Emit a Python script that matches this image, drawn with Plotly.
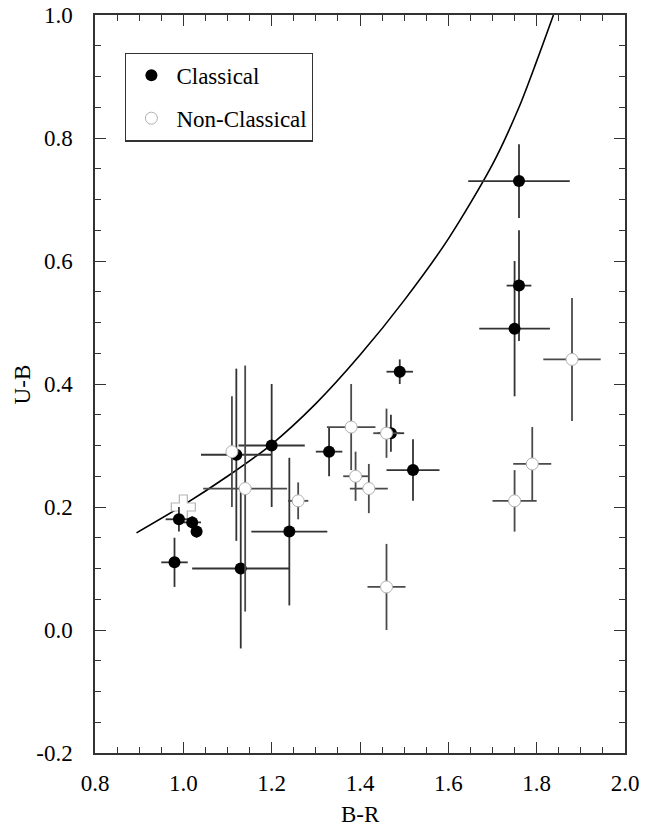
import plotly.graph_objects as go

# Classical objects: B-R colour, U-B colour and their 1-sigma errors
classical_br = [0.98, 0.99, 1.02, 1.03, 1.12, 1.13, 1.20, 1.24, 1.33, 1.47, 1.49, 1.52, 1.75, 1.76, 1.76]
classical_ub = [0.11, 0.18, 0.175, 0.16, 0.285, 0.10, 0.30, 0.16, 0.29, 0.32, 0.42, 0.26, 0.49, 0.56, 0.73]
classical_br_err = [0.03, 0.03, 0.02, 0.01, 0.08, 0.11, 0.075, 0.086, 0.03, 0.03, 0.03, 0.06, 0.08, 0.028, 0.115]
classical_ub_err = [0.04, 0.02, 0.01, 0.01, 0.14, 0.13, 0.10, 0.12, 0.04, 0.03, 0.02, 0.05, 0.11, 0.09, 0.06]

# Non-classical objects
nonclassical_br = [1.11, 1.14, 1.26, 1.38, 1.39, 1.42, 1.46, 1.46, 1.75, 1.79, 1.88]
nonclassical_ub = [0.29, 0.23, 0.21, 0.33, 0.25, 0.23, 0.32, 0.07, 0.21, 0.27, 0.44]
nonclassical_br_err = [0.012, 0.095, 0.023, 0.055, 0.028, 0.043, 0.03, 0.043, 0.05, 0.043, 0.065]
nonclassical_ub_err = [0.09, 0.20, 0.03, 0.07, 0.04, 0.04, 0.04, 0.07, 0.05, 0.06, 0.10]

# Reference object marked with a cross
cross_br = [1.00]
cross_ub = [0.20]

# Model colour track
track_br = [0.894, 1.00, 1.10, 1.20, 1.30, 1.40, 1.50, 1.60, 1.70, 1.76, 1.80, 1.838]
track_ub = [0.158, 0.203, 0.250, 0.302, 0.368, 0.447, 0.536, 0.636, 0.757, 0.850, 0.925, 1.0]

# Axis ticks and titles
x_ticks = [0.8, 1.0, 1.2, 1.4, 1.6, 1.8, 2.0]
x_ticklabels = ["0.8", "1.0", "1.2", "1.4", "1.6", "1.8", "2.0"]
y_ticks = [-0.2, 0.0, 0.2, 0.4, 0.6, 0.8, 1.0]
y_ticklabels = ["-0.2", "0.0", "0.2", "0.4", "0.6", "0.8", "1.0"]
x_title = "B-R"
y_title = "U-B"

FONT = "Liberation Serif"
FSIZE = 23

fig = go.Figure()

fig.add_trace(go.Scatter(
    x=track_br, y=track_ub, mode="lines",
    line=dict(color="black", width=1.6, shape="spline", smoothing=0.8),
    showlegend=False, hoverinfo="skip", cliponaxis=True,
))

fig.add_trace(go.Scatter(
    x=cross_br, y=cross_ub, mode="markers",
    marker=dict(symbol="cross", size=20, color="white",
                line=dict(color="#b5b5b5", width=1.2)),
    showlegend=False,
))

fig.add_trace(go.Scatter(
    x=classical_br, y=classical_ub, mode="markers", name="Classical",
    legendgroup="a",
    marker=dict(symbol="circle", size=12, color="black",
                line=dict(color="black", width=0)),
    error_x=dict(type="data", array=classical_br_err, color="#333333",
                 thickness=1.8, width=0),
    error_y=dict(type="data", array=classical_ub_err, color="#333333",
                 thickness=1.8, width=0),
))

fig.add_trace(go.Scatter(
    x=nonclassical_br, y=nonclassical_ub, mode="markers", name="Non-Classical",
    legendgroup="b",
    marker=dict(symbol="circle", size=12, color="white",
                line=dict(color="#b0b0b0", width=1)),
    error_x=dict(type="data", array=nonclassical_br_err, color="#4a4a4a",
                 thickness=1.8, width=0),
    error_y=dict(type="data", array=nonclassical_ub_err, color="#4a4a4a",
                 thickness=1.8, width=0),
))

axis_common = dict(
    showgrid=False, zeroline=False, automargin=False,
    showline=True, linecolor="#333333", linewidth=1.5, mirror="ticks",
    ticks="inside", ticklen=11, tickwidth=1.3, tickcolor="#333333",
    tickfont=dict(family=FONT, size=FSIZE, color="black"),
)

fig.update_xaxes(
    range=[0.8, 2.0], tickvals=x_ticks, ticktext=x_ticklabels,
    minor=dict(ticks="inside", ticklen=6, dtick=0.05, tick0=0.8,
               tickcolor="#333333", tickwidth=1.1),
    ticklabelstandoff=9,
    **axis_common,
)
fig.update_yaxes(
    range=[-0.2, 1.0], tickvals=y_ticks, ticktext=y_ticklabels,
    minor=dict(ticks="inside", ticklen=6, dtick=0.05, tick0=0.0,
               tickcolor="#333333", tickwidth=1.1),
    ticklabelstandoff=16,
    **axis_common,
)

# Axis titles placed as paper-anchored text
fig.add_annotation(text=x_title, xref="paper", yref="paper", x=0.5, y=-0.084,
                   xanchor="center", yanchor="middle", showarrow=False,
                   font=dict(family=FONT, size=FSIZE, color="black"))
fig.add_annotation(text=y_title, xref="paper", yref="paper", x=-0.137, y=0.5,
                   xanchor="center", yanchor="middle", showarrow=False, textangle=-90,
                   font=dict(family=FONT, size=FSIZE, color="black"))

fig.update_layout(
    width=658, height=827,
    margin=dict(l=95, r=33, t=15, b=74),
    paper_bgcolor="white", plot_bgcolor="white",
    font=dict(family=FONT, size=FSIZE, color="black"),
    legend=dict(
        x=0.057, y=0.949, xanchor="left", yanchor="top",
        bgcolor="white", bordercolor="#333333", borderwidth=1.2,
        font=dict(family=FONT, size=FSIZE, color="black"),
        traceorder="grouped", tracegroupgap=10, itemwidth=40,
    ),
)

fig.write_html("out.html")
